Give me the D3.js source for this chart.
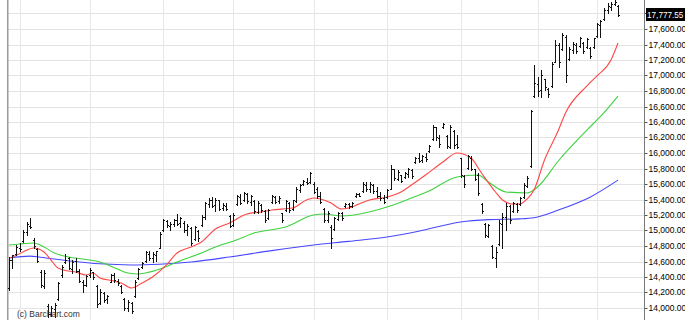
<!DOCTYPE html>
<html><head><meta charset="utf-8">
<script src="https://cdn.jsdelivr.net/npm/d3@7"></script>
<style>body{margin:0;background:#fff}svg{display:block}</style>
</head><body>
<svg id="c" width="685" height="320"></svg>
<script>
// ---- data (daily OHLC) ----
const highs = [14660,14690,14810,14840,15000,15110,15160,14900,14770,14490,14490,14050,14030,14060,14340,14550,14700,14660,14620,14640,
14500,14360,14430,14520,14470,14300,14250,14200,14170,14440,14450,14380,14300,14130,14100,14080,14360,14520,14600,14740,
14740,14720,14740,14980,15150,15130,15110,15150,15210,15180,15120,15090,15040,15060,15000,15200,15370,15420,15430,15420,
15400,15350,15360,15200,15220,15460,15470,15500,15490,15460,15390,15380,15340,15260,15280,15460,15450,15440,15230,15390,
15370,15400,15560,15600,15650,15680,15760,15620,15560,15500,15290,15250,15070,15180,15240,15240,15350,15350,15370,15480,
15490,15620,15630,15620,15600,15560,15500,15460,15540,15840,15800,15780,15720,15760,15810,15800,15950,16000,15980,16000,
16100,16360,16320,16230,16390,16230,16360,16300,16230,15940,15720,15980,15960,15800,15740,15350,15100,15090,14810,14790,
15130,15220,15350,15330,15370,15360,15430,15610,15700,16560,17135,16980,17070,16960,16840,17170,17460,17420,17550,17520,
17370,17430,17420,17500,17430,17490,17370,17490,17680,17720,17870,17930,17950,17970,17910];
const lows = [14230,14520,14690,14730,14850,14940,15030,14770,14590,14270,14260,13890,13900,13890,14100,14400,14580,14500,14450,14460,
14330,14200,14280,14400,14380,14010,14050,14080,14060,14330,14340,14300,14190,13980,13960,13940,14140,14380,14520,14600,
14620,14600,14610,14770,14990,15050,15010,15060,15070,15050,14980,14940,14810,14880,14860,15060,15150,15300,15300,15250,
15260,15270,15260,15040,15060,15330,15340,15380,15360,15330,15230,15220,15240,15110,15150,15360,15350,15350,15110,15250,
15240,15270,15370,15500,15590,15600,15610,15480,15420,15350,15110,15110,14775,15010,15130,15140,15300,15290,15300,15430,
15440,15500,15510,15500,15490,15430,15400,15350,15420,15530,15650,15650,15620,15680,15690,15680,15870,15880,15890,15900,
16010,16170,16170,16080,16320,16070,16060,16060,16060,15690,15560,15800,15780,15650,15460,15230,14920,14910,14640,14530,
14810,14770,15010,15100,15240,15240,15330,15420,15560,15820,16720,16740,16720,16810,16720,16850,17170,17110,17330,16920,
17200,17290,17290,17370,17290,17360,17230,17360,17500,17500,17720,17810,17840,17910,17770];
const opens = [14260,14620,14700,14780,14860,14980,15060,14880,14760,14470,14290,14030,13920,13990,14110,14420,14600,14640,14500,14610,
14480,14340,14300,14420,14460,14280,14060,14190,14110,14340,14420,14350,14280,14120,14000,14060,14150,14390,14530,14610,
14700,14640,14690,14780,15000,15120,15060,15080,15130,15100,15100,15000,15030,14890,14990,15070,15170,15340,15390,15330,
15390,15290,15320,15190,15070,15340,15430,15390,15470,15370,15380,15240,15330,15250,15160,15370,15430,15380,15220,15260,
15360,15280,15380,15520,15600,15630,15620,15600,15540,15440,15280,15140,15050,15020,15150,15220,15310,15340,15310,15440,
15470,15510,15590,15530,15590,15510,15450,15420,15430,15540,15790,15670,15710,15690,15730,15780,15880,15930,15910,15950,
16020,16180,16330,16190,16330,16220,16080,16280,16110,15930,15700,15810,15940,15790,15720,15340,15090,14930,14800,14650,
14820,15090,15170,15310,15250,15340,15340,15430,15580,15830,16740,16890,16810,16950,16830,16860,17180,17390,17340,17500,
17210,17330,17400,17380,17420,17370,17360,17370,17510,17650,17730,17840,17890,17920,17900];
const closes = [14620,14680,14790,14760,14980,15080,15050,14800,14610,14300,14450,13920,14000,14040,14320,14530,14620,14520,14600,14480,
14350,14300,14410,14490,14400,14050,14200,14100,14150,14420,14360,14320,14200,14000,14080,13960,14340,14500,14580,14720,
14650,14700,14730,14960,15130,15070,15090,15140,15090,15160,15000,15060,14840,15040,14900,15180,15350,15400,15320,15400,
15280,15330,15280,15060,15200,15440,15360,15480,15380,15440,15250,15360,15260,15130,15270,15440,15370,15420,15130,15380,
15260,15390,15540,15590,15640,15610,15740,15500,15440,15370,15130,15230,14900,15160,15220,15160,15340,15310,15360,15470,
15450,15600,15540,15600,15510,15450,15420,15370,15520,15800,15680,15760,15640,15740,15790,15700,15940,15900,15960,15920,
16090,16340,16200,16110,16380,16090,16330,16100,16080,15710,15600,15960,15800,15670,15480,15250,14940,15070,14660,14720,
15100,15180,15320,15140,15350,15260,15420,15590,15680,16540,16900,16800,17000,16850,16760,17150,17400,17180,17520,17000,
17340,17410,17310,17480,17320,17470,17250,17480,17660,17700,17850,17900,17920,17950,17777.55];
const lastPrice = 17777.55;

// moving averages: bar index + value
const maRedIdx = [0,1,4,7,10,12,14,17,19,22,24,26,30,32,35,38,41,45,48,52,55,59,63,68,72,75,81,85,87,89,92,95,97,100,103,108,112,115,119,124,128,132,135,139,141,144,146,148,150,153,157,159,165,168,172,174];
const maRedVal = [14645,14658,14723,14774,14723,14619,14516,14477,14465,14426,14452,14387,14348,14323,14258,14323,14400,14555,14710,14787,14852,15019,15097,15213,15239,15265,15290,15394,15419,15406,15355,15277,15290,15342,15394,15432,15497,15587,15716,15884,16000,15935,15742,15497,15394,15342,15342,15406,15523,15910,16297,16516,16860,16995,17200,17419];
const maGreenIdx = [0,3,7,10,13,17,21,26,31,34,37,39,44,48,55,59,65,70,79,87,90,95,108,115,120,128,134,137,142,148,151,157,165,170,174];
const maGreenVal = [14813,14826,14839,14787,14710,14658,14632,14594,14503,14452,14439,14452,14516,14594,14710,14787,14877,14968,15045,15200,15213,15187,15303,15419,15510,15690,15716,15626,15497,15484,15561,15900,16290,16520,16735];
const maBlueIdx = [0,6,9,17,26,35,43,52,63,75,87,97,108,117,129,137,146,150,157,166,174];
const maBlueVal = [14645,14670,14655,14610,14570,14555,14565,14594,14658,14740,14813,14860,14916,14990,15110,15140,15150,15165,15265,15430,15650];

// grid levels and the axis labels that are shown (17,800 sits under the last-price box)
const gridValues = [14000,14200,14400,14600,14800,15000,15200,15400,15600,15800,16000,16200,16400,16600,16800,17000,17200,17400,17600,17800];
const tickLabels = [14000,14200,14400,14600,14800,15000,15200,15400,15600,15800,16000,16200,16400,16600,16800,17000,17200,17400,17600];
const monthStartIdx = [3,23,44,64,87,108,129,151,168];

// ---- drawing ----
const svg = d3.select('#c');
const x = d3.scaleLinear().domain([0, highs.length - 1]).range([9, 618]);
const y = d3.scaleLinear().domain([14000, 17600]).range([308, 29]);
const px = v => Math.round(v) + 0.5;

// horizontal gridlines
svg.append('g').selectAll('line').data(gridValues).join('line')
  .attr('x1', 8).attr('x2', 644)
  .attr('y1', d => px(y(d))).attr('y2', d => px(y(d)))
  .attr('stroke', '#e3e3e3').attr('stroke-width', 1);

// vertical gridlines (month starts)
svg.append('g').selectAll('line').data(monthStartIdx).join('line')
  .attr('x1', d => px(x(d))).attr('x2', d => px(x(d)))
  .attr('y1', 0).attr('y2', 320)
  .attr('stroke', '#e6e6e6').attr('stroke-width', 1);

// left border
svg.append('rect').attr('x', 7).attr('y', 0).attr('width', 1.5).attr('height', 320).attr('fill', '#9a9a9a');

// moving averages
const line = d3.line().x(d => x(d[0])).y(d => y(d[1])).curve(d3.curveMonotoneX);
const mas = [
  {idx: maBlueIdx, val: maBlueVal, color: '#4848ff'},
  {idx: maGreenIdx, val: maGreenVal, color: '#3ed23e'},
  {idx: maRedIdx, val: maRedVal, color: '#ff4646'}
];
mas.forEach(m => {
  svg.append('path').datum(m.idx.map((d, i) => [d, m.val[i]]))
    .attr('d', line).attr('fill', 'none').attr('stroke', m.color).attr('stroke-width', 1.1);
});

// OHLC bars
const bars = svg.append('g').attr('stroke', '#111').attr('stroke-width', 1).attr('shape-rendering', 'crispEdges');
highs.forEach((h, i) => {
  const cx = px(x(i));
  bars.append('line').attr('x1', cx).attr('x2', cx).attr('y1', Math.round(y(h))).attr('y2', Math.round(y(lows[i])) + 1);
  bars.append('line').attr('x1', cx - 1.5).attr('x2', cx).attr('y1', px(y(opens[i]))).attr('y2', px(y(opens[i])));
  bars.append('line').attr('x1', cx).attr('x2', cx + 1.5).attr('y1', px(y(closes[i]))).attr('y2', px(y(closes[i])));
});

// right axis
const axis = d3.axisRight(y).tickValues(tickLabels).tickSize(3).tickSizeOuter(0).tickPadding(1)
  .tickFormat(d3.format(',.2f'));
const ag = svg.append('g').attr('transform', 'translate(644.5,0)').call(axis);
ag.select('.domain').remove();
ag.selectAll('.tick line').attr('stroke', '#555');
ag.selectAll('.tick text').attr('font-family', 'Liberation Sans, Arial, sans-serif').attr('font-size', 8.5).attr('fill', '#000');
ag.selectAll('.tick').attr('transform', d => `translate(0,${px(y(d))})`);
svg.append('line').attr('x1', 644.5).attr('x2', 644.5).attr('y1', 0).attr('y2', 320).attr('stroke', '#777');
// tick mark for the hidden 17,800 level
svg.append('line').attr('x1', 644.5).attr('x2', 647.5).attr('y1', px(y(17800))).attr('y2', px(y(17800))).attr('stroke', '#555');

// last price box
const ly = y(lastPrice);
svg.append('rect').attr('x', 646).attr('y', Math.round(ly) - 7).attr('width', 39).attr('height', 13).attr('fill', '#000');
svg.append('text').attr('x', 647).attr('y', Math.round(ly)).attr('dy', '0.32em')
  .attr('font-family', 'Liberation Sans, Arial, sans-serif').attr('font-size', 8.2).attr('fill', '#fff')
  .text(d3.format(',.2f')(lastPrice));

// copyright
svg.append('text').attr('x', 17).attr('y', 317)
  .attr('font-family', 'Liberation Sans, Arial, sans-serif').attr('font-size', 8.5).attr('fill', '#333')
  .text('(c) Barchart.com');
</script>
</body></html>
